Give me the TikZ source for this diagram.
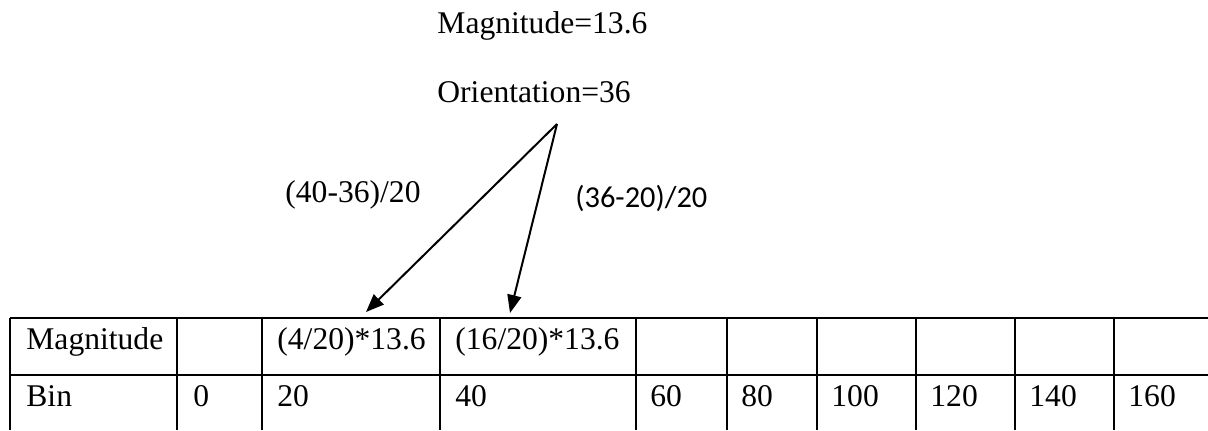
\documentclass[tikz,border=0pt]{standalone}
\usepackage{fontspec}
\setmainfont{Liberation Serif}
\newfontfamily\calib{Carlito}
\usetikzlibrary{arrows.meta}
\begin{document}
\begin{tikzpicture}[x=0.5pt,y=-0.5pt,
  txt/.style={inner sep=0pt, anchor=base west, font=\fontsize{15.8}{19}\selectfont},
  sanslbl/.style={inner sep=0pt, anchor=base west, font=\calib\fontsize{15.2}{18}\selectfont},
  gridline/.style={line width=1pt},
  arr/.style={line width=1pt, -{Triangle[length=9pt,width=7pt]}}]
\useasboundingbox (0,0) rectangle (1208,430);
% header texts
\node[txt] (mag) at (437,33) {Magnitude=13.6};
\node[txt] (ori) at (437,102) {Orientation=36};
\node[txt] (lblL) at (285,202) {(40-36)/20};
\node[sanslbl] (lblR) at (575,207) {(36-20)/20};
% arrows
\coordinate (apex) at (557,124);
\coordinate (tipL) at (366,312);
\coordinate (tipR) at (510,313);
\draw[arr] (apex) -- (tipL);
\draw[arr] (apex) -- (tipR);
% table grid
\draw[gridline] (10,318) -- (1208,318);
\draw[gridline] (10,375) -- (1208,375);
\foreach \x in {10,177,262,440,636,727,817,916,1015,1114}
  \draw[gridline] (\x,318) -- (\x,430);
% row 1
\node[txt] (r1c0) at (26,349) {Magnitude};
\node[txt] (r1c2) at (277,349) {(4/20)*13.6};
\node[txt] (r1c3) at (455,349) {(16/20)*13.6};
% row 2
\node[txt] (r2c0) at (26,406) {Bin};
\node[txt] (r2c1) at (193,406) {0};
\node[txt] (r2c2) at (277,406) {20};
\node[txt] (r2c3) at (455,406) {40};
\node[txt] (r2c4) at (650,406) {60};
\node[txt] (r2c5) at (741,406) {80};
\node[txt] (r2c6) at (831,406) {100};
\node[txt] (r2c7) at (930,406) {120};
\node[txt] (r2c8) at (1029,406) {140};
\node[txt] (r2c9) at (1128,406) {160};
\end{tikzpicture}
\end{document}
